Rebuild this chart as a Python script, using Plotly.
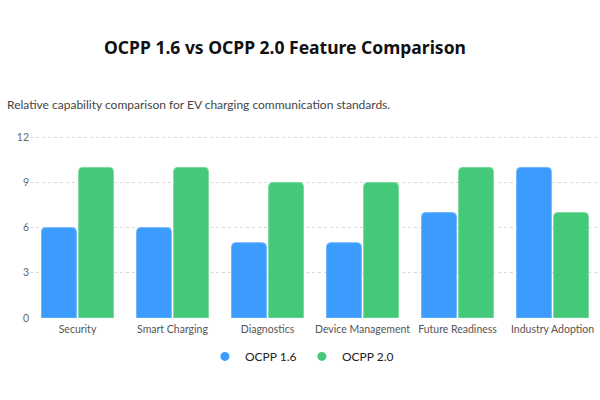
import plotly.graph_objects as go

categories = ["Security", "Smart Charging", "Diagnostics", "Device Management", "Future Readiness", "Industry Adoption"]
ocpp16 = [6, 6, 5, 5, 7, 10]
ocpp20 = [10, 10, 9, 9, 10, 7]
series_names = ["OCPP 1.6", "OCPP 2.0"]
colors = ["#3b9cfd", "#43c977"]
line_colors = ["#6fb6ff", "#7ad99e"]

fig = go.Figure()
for name, vals, c, lc in zip(series_names, [ocpp16, ocpp20], colors, line_colors):
    fig.add_trace(go.Bar(x=categories, y=vals, name=name, marker=dict(color=c, line=dict(color=lc, width=1)),
                         showlegend=False))
    fig.add_trace(go.Scatter(x=[None], y=[None], mode="markers", name=name,
                             marker=dict(color=c, size=9, symbol="circle")))

fig.update_layout(
    width=600, height=400,
    margin=dict(l=30, r=0, t=135, b=82, autoexpand=False),
    paper_bgcolor="white", plot_bgcolor="white",
    font=dict(family="Lato, Noto Sans, sans-serif", color="#555"),
    barmode="group", bargap=0.22, bargroupgap=0.06,
    barcornerradius=4,
    title=dict(text="<b>OCPP 1.6 vs OCPP 2.0 Feature Comparison</b>", x=0.475, xanchor="center",
               y=0.88, yanchor="middle", font=dict(family="Noto Sans, sans-serif", size=17.5, color="#111")),
    legend=dict(orientation="h", x=0.477, xanchor="center", y=-0.21, yanchor="middle",
                font=dict(size=12, color="#222"), entrywidth=52, entrywidthmode="pixels"),
    yaxis=dict(range=[0, 12.15], tickvals=[0, 3, 6, 9, 12], showgrid=True, gridcolor="#d8d8d8",
               griddash="dot", zeroline=False, tickfont=dict(size=10.5, color="#666"), fixedrange=True,
               automargin=False),
    xaxis=dict(tickfont=dict(size=10.5, color="#555"), showline=False, showgrid=False, tickangle=0,
               automargin=False, ticklen=1, tickcolor="white", ticks="outside"),
    annotations=[dict(text="Relative capability comparison for EV charging communication standards.",
                      xref="paper", yref="paper", x=-25/570, y=(318-104)/183, xanchor="left", yanchor="middle",
                      showarrow=False, font=dict(size=12, color="#444"))],
)
fig.write_html("out.html")
